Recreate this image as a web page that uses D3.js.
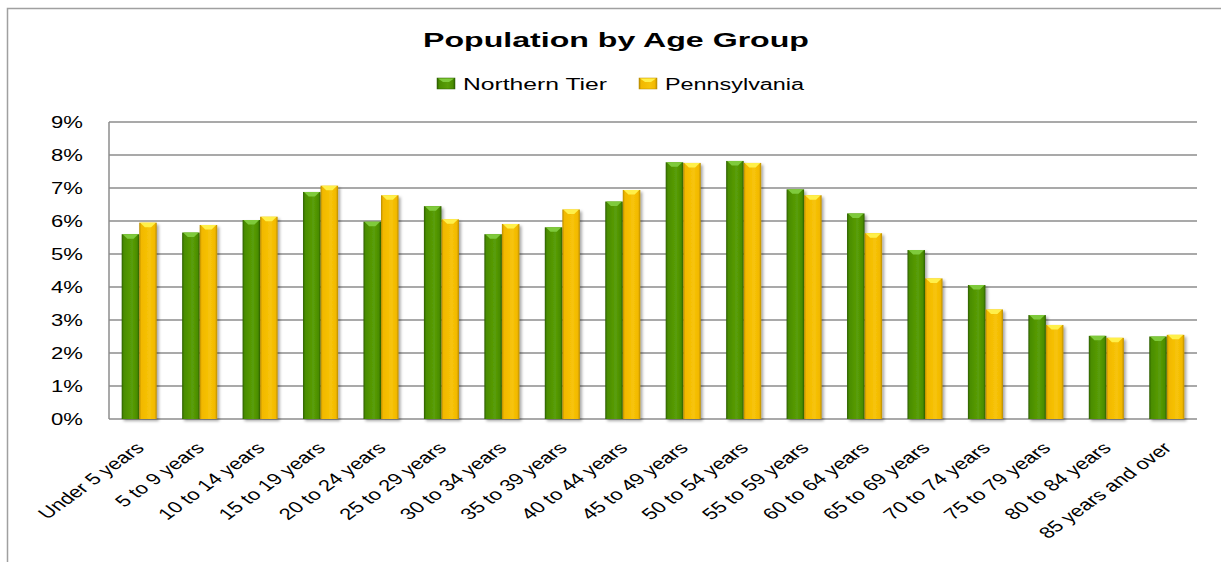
<!DOCTYPE html>
<html>
<head>
  <meta charset="utf-8">
  <script src="https://d3js.org/d3.v7.min.js"></script>
  <style>
    body { margin: 0; background: #fff; }
    text { font-family: "Liberation Sans", Arial, sans-serif; fill: #000; }
  </style>
</head>
<body>
<script>
  // Chart values (percent of population)
  var categories = ["Under 5 years", "5 to 9 years", "10 to 14 years", "15 to 19 years",
    "20 to 24 years", "25 to 29 years", "30 to 34 years", "35 to 39 years",
    "40 to 44 years", "45 to 49 years", "50 to 54 years", "55 to 59 years",
    "60 to 64 years", "65 to 69 years", "70 to 74 years", "75 to 79 years",
    "80 to 84 years", "85 years and over"];
  var northernTier = [5.6, 5.65, 6.03, 6.88, 5.98, 6.45, 5.6, 5.81, 6.59, 7.78,
    7.82, 6.96, 6.23, 5.12, 4.06, 3.15, 2.52, 2.5];
  var pennsylvania = [5.95, 5.88, 6.13, 7.07, 6.78, 6.05, 5.91, 6.35, 6.94, 7.76,
    7.76, 6.78, 5.63, 4.26, 3.32, 2.85, 2.46, 2.55];
  var seriesNames = ["Northern Tier", "Pennsylvania"];
  var yTicks = [0, 1, 2, 3, 4, 5, 6, 7, 8, 9];

  var W = 1221, H = 562;
  var plot = { left: 109, right: 1197, top: 122, bottom: 419 };
  var stretch = 1.38; // the original picture is stretched sideways

  var colors = {
    "Northern Tier": { dark: "#2c5e00", mid: "#4a8d00", light: "#5a9e08", cap: "#7fca3c" },
    "Pennsylvania": { dark: "#b88c00", mid: "#f2b800", light: "#f7c409", cap: "#fff04a" }
  };

  var svg = d3.select("body").append("svg")
    .attr("width", W).attr("height", H);

  var defs = svg.append("defs");
  seriesNames.forEach(function(name, i) {
    var c = colors[name];
    var g = defs.append("linearGradient").attr("id", "grad" + i)
      .attr("x1", "0").attr("x2", "1").attr("y1", "0").attr("y2", "0");
    g.append("stop").attr("offset", "0").attr("stop-color", c.dark);
    g.append("stop").attr("offset", "0.12").attr("stop-color", c.mid);
    g.append("stop").attr("offset", "0.6").attr("stop-color", c.light);
    g.append("stop").attr("offset", "0.88").attr("stop-color", c.mid);
    g.append("stop").attr("offset", "1").attr("stop-color", c.dark);
  });
  defs.append("filter").attr("id", "shadow")
    .attr("x", "-20%").attr("y", "-5%").attr("width", "160%").attr("height", "115%")
    .append("feDropShadow")
    .attr("dx", 2).attr("dy", 2).attr("stdDeviation", 1.5)
    .attr("flood-color", "#000").attr("flood-opacity", 0.35);

  // outer frame
  svg.append("rect")
    .attr("x", 7.5).attr("y", 8.5).attr("width", W + 10).attr("height", H + 10)
    .attr("fill", "none").attr("stroke", "#a0a0a0").attr("stroke-width", 1.5);

  // scales
  var x0 = d3.scaleBand().domain(categories)
    .range([plot.left, plot.right]).paddingInner(0.42).paddingOuter(0.21);
  var x1 = d3.scaleBand().domain(seriesNames).range([0, x0.bandwidth()]);
  var y = d3.scaleLinear().domain([0, 9]).range([plot.bottom, plot.top]);

  // gridlines
  svg.append("g").selectAll("line").data(yTicks).join("line")
    .attr("x1", plot.left).attr("x2", plot.right)
    .attr("y1", function(d) { return y(d); })
    .attr("y2", function(d) { return y(d); })
    .attr("stroke", "#8c8c8c").attr("stroke-width", 1.5);
  svg.append("line")
    .attr("x1", plot.left).attr("x2", plot.left)
    .attr("y1", plot.top).attr("y2", plot.bottom)
    .attr("stroke", "#8c8c8c").attr("stroke-width", 1.5);

  // y tick labels
  svg.append("g").selectAll("text").data(yTicks).join("text")
    .attr("transform", function(d) {
      return "translate(83," + (y(d) + 5.5) + ") scale(" + stretch + ",1)";
    })
    .attr("text-anchor", "end")
    .style("font-size", "16px")
    .text(function(d) { return d + "%"; });

  // bars
  var rows = categories.map(function(c, i) {
    return { cat: c, values: [northernTier[i], pennsylvania[i]] };
  });
  var groups = svg.append("g").selectAll("g").data(rows).join("g")
    .attr("transform", function(d) { return "translate(" + x0(d.cat) + ",0)"; });

  var bars = groups.selectAll("g").data(function(d) {
    return d.values.map(function(v, i) { return { name: seriesNames[i], idx: i, value: v }; });
  }).join("g");

  bars.append("rect")
    .attr("x", function(d) { return x1(d.name); })
    .attr("y", function(d) { return y(d.value); })
    .attr("width", x1.bandwidth())
    .attr("height", function(d) { return y(0) - y(d.value); })
    .attr("fill", function(d) { return "url(#grad" + d.idx + ")"; })
    .attr("filter", "url(#shadow)");

  // bevelled top cap
  bars.append("path")
    .attr("d", function(d) {
      var bx = x1(d.name), bw = x1.bandwidth(), by = y(d.value);
      return "M" + (bx + 1) + "," + by + "L" + (bx + bw - 1) + "," + by +
        "L" + (bx + bw * 0.68) + "," + (by + 4.5) + "L" + (bx + bw * 0.32) + "," + (by + 4.5) + "Z";
    })
    .attr("fill", function(d) { return colors[d.name].cap; });

  // x tick labels
  svg.append("g").selectAll("text").data(categories).join("text")
    .attr("transform", function(d) {
      var cx = x0(d) + x0.bandwidth() / 2;
      return "translate(" + (cx + 6) + ",449) scale(" + stretch + ",1) rotate(-45)";
    })
    .attr("text-anchor", "end")
    .style("font-size", "16px")
    .text(function(d) { return d; });

  // title
  svg.append("text")
    .attr("x", 423).attr("y", 47)
    .attr("textLength", 386).attr("lengthAdjust", "spacingAndGlyphs")
    .style("font-size", "20px").style("font-weight", "bold")
    .text("Population by Age Group");

  // legend
  var legendX = [437, 639];
  var legendTextW = [144, 139];
  var legend = svg.append("g").selectAll("g").data(seriesNames).join("g")
    .attr("transform", function(d, i) { return "translate(" + legendX[i] + ",78)"; });
  legend.append("rect")
    .attr("width", 18).attr("height", 11)
    .attr("fill", function(d, i) { return "url(#grad" + i + ")"; })
    .attr("stroke", function(d) { return colors[d].dark; }).attr("stroke-width", 0.5);
  legend.append("path")
    .attr("d", "M1,0.5L17,0.5L12,4L6,4Z")
    .attr("fill", function(d) { return colors[d].cap; });
  legend.append("text")
    .attr("x", 26).attr("y", 11.5)
    .attr("textLength", function(d, i) { return legendTextW[i]; })
    .attr("lengthAdjust", "spacingAndGlyphs")
    .style("font-size", "16px")
    .text(function(d) { return d; });
</script>
</body>
</html>
